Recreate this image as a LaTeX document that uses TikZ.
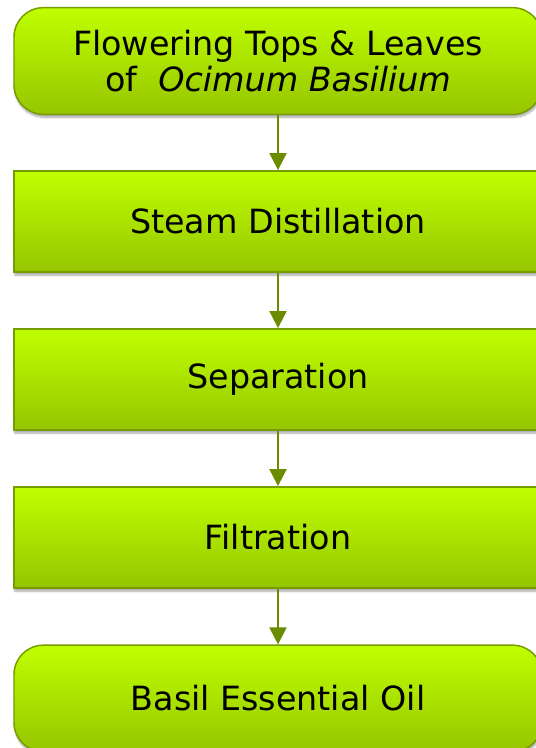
\documentclass[tikz,border=0pt]{standalone}
\usepackage{fontspec}
\setmainfont{DejaVu Sans}
\usetikzlibrary{arrows.meta,shadows.blur}
\definecolor{boxtop}{RGB}{191,255,0}
\definecolor{boxbot}{RGB}{150,197,0}
\definecolor{boxline}{RGB}{118,156,0}
\definecolor{arrowc}{RGB}{108,140,0}
\tikzset{
  stepbox/.style={draw=boxline, line width=1.1pt, top color=boxtop, bottom color=boxbot,
    minimum width=396pt, minimum height=76pt, inner sep=0pt, align=center,
    font=\fontsize{25pt}{27pt}\selectfont,
    blur shadow={shadow blur steps=6, shadow xshift=0.6pt, shadow yshift=-2.2pt, shadow opacity=35, shadow blur radius=1.5pt}},
  termbox/.style={stepbox, rounded corners=22pt, minimum height=80pt},
  flow/.style={draw=arrowc, line width=1.5pt, -{Triangle[width=12.75pt,length=12.75pt]}}
}
\begin{document}
\begin{tikzpicture}[x=0.75pt,y=-0.75pt]
\useasboundingbox (0,0) rectangle (535,748);
\node[termbox] (src) at (278,61) {Flowering Tops \& Leaves\\of \ \textit{Ocimum Basilium}};
\node[stepbox] (steam) at (278,221.5) {Steam Distillation};
\node[stepbox] (sep) at (278,379.5) {Separation};
\node[stepbox] (filt) at (278,537.5) {Filtration};
\node[termbox] (oil) at (278,698.5) {Basil Essential Oil};
\draw[flow] (src) -- (steam);
\draw[flow] (steam) -- (sep);
\draw[flow] (sep) -- (filt);
\draw[flow] (filt) -- (oil);
\end{tikzpicture}
\end{document}
